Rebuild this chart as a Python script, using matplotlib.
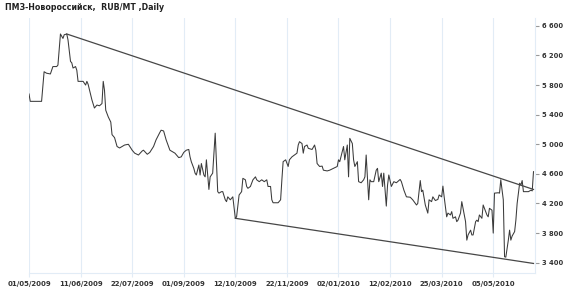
import matplotlib
matplotlib.use('Agg')
import matplotlib.pyplot as plt
import matplotlib.dates as mdates
import pandas as pd
from matplotlib.ticker import FuncFormatter

title = 'ПМЗ-Новороссийск,  RUB/MT ,Daily'
start_date = '2009-05-01'

# day offsets from start_date and prices (RUB/MT)
day_offsets = [
    0, 1, 10, 12, 14, 17, 19, 22, 23, 25,
    27, 28, 30, 31, 33, 34, 35, 37, 38, 39,
    43, 45, 46, 47, 50, 52, 54, 56, 58, 59,
    60, 61, 63, 65, 66, 68, 70, 72, 75, 76,
    79, 82, 84, 87, 90, 91, 94, 96, 99, 101,
    104, 105, 107, 109, 112, 114, 116, 119, 121, 123,
    125, 127, 128, 129, 131, 132, 133, 135, 136, 137,
    139, 140, 141, 143, 144, 146, 148, 150, 151, 153,
    154, 156, 157, 158, 160, 162, 164, 165, 167, 169,
    170, 172, 173, 174, 176, 178, 180, 181, 183, 185,
    187, 189, 190, 192, 193, 194, 198, 200, 201, 202,
    204, 206, 207, 209, 211, 213, 214, 215, 217, 218,
    219, 221, 222, 225, 227, 228, 229, 231, 233, 234,
    237, 239, 242, 245, 246, 247, 249, 250, 251, 253,
    254, 255, 257, 258, 259, 261, 262, 264, 266, 267,
    268, 270, 271, 272, 274, 276, 277, 278, 280, 281,
    282, 284, 285, 286, 288, 290, 292, 295, 296, 298,
    300, 303, 305, 308, 309, 311, 312, 313, 315, 317,
    318, 320, 321, 323, 325, 326, 328, 329, 330, 332,
    333, 335, 336, 337, 339, 340, 341, 343, 344, 345,
    347, 348, 349, 351, 352, 353, 355, 356, 357, 358,
    360, 361, 362, 364, 365, 366, 368, 369, 370, 373,
    374, 375, 377, 378, 379, 381, 382, 383, 384, 386,
    387, 388, 390, 391, 392, 393, 394, 397, 399, 400,
    401,
]
prices = [
    5680, 5580, 5580, 5980, 5960, 5950, 6050, 6050, 6070, 6490,
    6430, 6480, 6490, 6410, 6120, 6100, 6030, 6050, 6000, 5850,
    5850, 5800, 5850, 5810, 5600, 5490, 5530, 5520, 5550, 5850,
    5730, 5460, 5370, 5300, 5130, 5090, 4970, 4950, 4980, 4990,
    5000, 4920, 4880, 4855, 4910, 4920, 4865, 4890, 4970, 5060,
    5160, 5190, 5180, 5060, 4920, 4900, 4880, 4820, 4830, 4890,
    4920, 4930, 4830, 4765, 4675, 4610, 4585, 4720, 4585, 4740,
    4585, 4560, 4790, 4390, 4560, 4610, 5150, 4360, 4340, 4360,
    4360, 4250, 4225, 4290, 4250, 4290, 4000, 4020, 4315, 4360,
    4540, 4520, 4430, 4405, 4430, 4520, 4560, 4520, 4495, 4520,
    4495, 4520, 4430, 4430, 4250, 4210, 4210, 4250, 4520, 4765,
    4790, 4700, 4790, 4830, 4855, 4880, 4990, 5035, 5010, 4880,
    4970, 4990, 4945, 4930, 4990, 4920, 4740, 4700, 4705, 4650,
    4640, 4650, 4675, 4700, 4790, 4765, 4900, 4970, 4790, 4990,
    4560, 5080, 5010, 4790, 4700, 4765, 4495, 4480, 4520, 4560,
    4855, 4250, 4520, 4495, 4495, 4650, 4675, 4495, 4610, 4430,
    4610, 4165, 4450, 4585, 4430, 4495, 4480, 4525, 4495, 4380,
    4290, 4285, 4250, 4180, 4200, 4510, 4360, 4380, 4180, 4070,
    4250, 4225, 4290, 4240, 4255, 4315, 4290, 4435, 4290, 4020,
    4070, 4045, 4090, 4000, 4020, 3955, 3975, 4070, 4225, 4135,
    3955, 3705, 3775, 3840, 3775, 3775, 3955, 3975, 3955, 4045,
    4000, 4180, 4135, 4045, 4020, 4135, 4110, 3800, 4340, 4345,
    4340, 4520, 4250, 3480, 3475, 3705, 3840, 3705, 3760, 3820,
    3975, 4200, 4475, 4450, 4510, 4360, 4360, 4360, 4380, 4370,
    4630,
]

# trend lines (day offset, price)
upper_trend_days = [30, 401]
upper_trend_prices = [6490, 4390]
lower_trend_days = [164, 401]
lower_trend_prices = [4000, 3390]

# axis ticks
xtick_offsets = [0, 41, 82, 123, 164, 205, 246, 287, 328, 369]
ytick_values = [3400, 3800, 4200, 4600, 5000, 5400, 5800, 6200, 6600]

start = pd.Timestamp(start_date)
def to_dates(offs):
    return start + pd.to_timedelta(offs, unit='D')

fig = plt.figure(figsize=(5.7, 2.93), dpi=100)
ax = fig.add_axes([29 / 570, 20 / 293, 506 / 570, 255 / 293])
ax.set_axisbelow(True)

ax.plot(to_dates(day_offsets), prices, color='#3a3a3a', lw=0.75, zorder=3)
ax.plot(to_dates(upper_trend_days), upper_trend_prices, color='#474747', lw=0.9, zorder=4)
ax.plot(to_dates(lower_trend_days), lower_trend_prices, color='#474747', lw=0.9, zorder=4)

ax.set_xlim(start, start + pd.Timedelta(days=402.2))
ax.set_ylim(3261, 6706)

ax.set_xticks(to_dates(xtick_offsets))
ax.xaxis.set_major_formatter(mdates.DateFormatter('%d/%m/%Y'))
ax.yaxis.tick_right()
ax.set_yticks(ytick_values)
ax.yaxis.set_major_formatter(FuncFormatter(lambda v, p: f"{int(v):,}".replace(',', ' ')))

grid_c = '#e2ecf6'
ax.grid(axis='x', color=grid_c, lw=0.8)
ax.grid(axis='y', visible=False)
for s in ('top', 'left'):
    ax.spines[s].set_visible(False)
for s in ('right', 'bottom'):
    ax.spines[s].set_color(grid_c)
    ax.spines[s].set_linewidth(0.8)

ax.tick_params(axis='x', length=3, color=grid_c, labelsize=5.0, labelcolor='#333333', pad=2.5)
ax.tick_params(axis='y', length=3, color='#999999', labelsize=4.9, labelcolor='#333333', pad=2)
for lab in ax.get_xticklabels() + ax.get_yticklabels():
    lab.set_fontweight('bold')

fig.text(5 / 570, 1 - 8 / 293, title, fontsize=5.7, fontweight='bold', va='center', ha='left', color='#222222')

fig.savefig('out.png', dpi=100, facecolor='white')
